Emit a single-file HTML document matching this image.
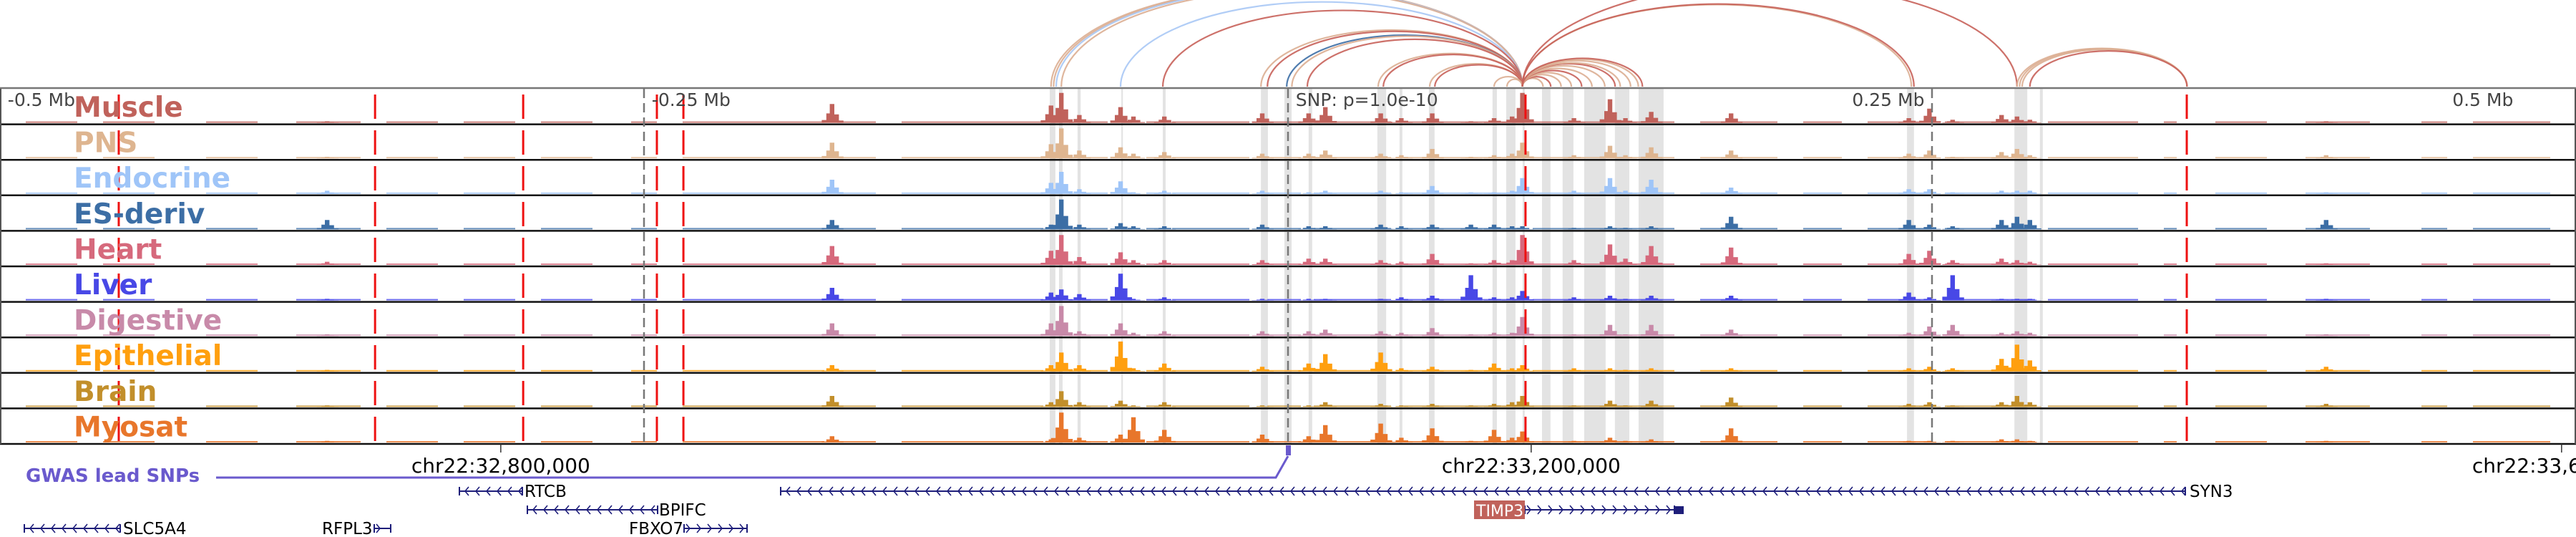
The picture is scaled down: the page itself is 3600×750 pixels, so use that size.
<!DOCTYPE html>
<html><head><meta charset="utf-8">
<style>
html,body{margin:0;padding:0;background:#fff;}
#wrap{position:relative;width:3600px;height:750px;overflow:hidden;}
svg{position:absolute;left:0;top:0;}
</style></head>
<body>
<div id="wrap">
<svg id="chart" width="3600" height="750" viewBox="0 0 3600 750">
  <g id="arcs"></g>
  <g id="bands"></g>
  <g id="tracks"></g>
  <g id="vlines"></g>
  <g id="labels"></g>
  <g id="axis"></g>
  <g id="genes"></g>
</svg>
</div>
<script>
// ---- data ----
const trackNames = ["Muscle","PNS","Endocrine","ES-deriv","Heart","Liver","Digestive","Epithelial","Brain","Myosat"];
const trackColors = ["#c0625b","#deb590","#9fc5f8","#3c6ea5","#d6697c","#4848e6","#c88aa9","#ff9f0f","#c28f2b","#e8762b"];
const peakKb = [-373,-177,-92,-88,-81,-65,-60,-48,-10,8,14.5,36,44,56,71,80,87,91,111,125,131,141,172,241,249,258,277,283,288,403];
const hMuscle = [0.05,0.6,0.55,0.95,0.25,0.5,0.2,0.2,0.3,0.3,0.5,0.3,0.15,0.3,0.05,0.15,0.2,0.95,0.15,0.75,0.15,0.35,0.3,0.15,0.45,0.1,0.25,0.2,0.1,0.05];
const hPNS = [0.05,0.5,0.45,0.95,0.25,0.35,0.15,0.2,0.15,0.15,0.25,0.15,0.1,0.3,0.05,0.1,0.15,0.5,0.1,0.4,0.1,0.35,0.25,0.15,0.25,0.05,0.2,0.3,0.1,0.1];
const hEndocrine = [0.1,0.45,0.35,0.7,0.15,0.4,0.05,0.1,0.1,0.05,0.1,0.1,0.05,0.25,0.05,0.05,0.1,0.5,0.1,0.5,0.1,0.45,0.2,0.15,0.15,0.05,0.1,0.1,0.1,0.05];
const hESderiv = [0.3,0.3,0.15,0.95,0.15,0.2,0.1,0.1,0.15,0.1,0.1,0.15,0.1,0.15,0.15,0.15,0.1,0.1,0.05,0.1,0.05,0.1,0.4,0.3,0.15,0.1,0.3,0.4,0.3,0.3];
const hHeart = [0.1,0.6,0.45,0.95,0.25,0.4,0.15,0.15,0.15,0.2,0.2,0.15,0.1,0.35,0.05,0.15,0.15,0.95,0.15,0.65,0.2,0.6,0.55,0.35,0.45,0.15,0.2,0.15,0.1,0.05];
const hLiver = [0.05,0.4,0.25,0.35,0.2,0.85,0.05,0.1,0.05,0.05,0.05,0.05,0.1,0.15,0.8,0.1,0.1,0.3,0.1,0.15,0.05,0.15,0.15,0.25,0.1,0.8,0.05,0.05,0.05,0.05];
const hDigestive = [0.05,0.4,0.4,0.95,0.15,0.4,0.1,0.15,0.15,0.15,0.2,0.15,0.1,0.25,0.05,0.1,0.1,0.6,0.05,0.35,0.05,0.35,0.2,0.1,0.3,0.35,0.1,0.15,0.1,0.05];
const hEpithelial = [0.05,0.2,0.2,0.6,0.2,0.95,0.1,0.25,0.15,0.25,0.55,0.6,0.1,0.15,0.05,0.25,0.1,0.2,0.1,0.1,0.05,0.1,0.1,0.1,0.15,0.1,0.4,0.85,0.35,0.15];
const hBrain = [0.05,0.35,0.15,0.5,0.15,0.2,0.05,0.15,0.05,0.05,0.15,0.1,0.05,0.1,0.05,0.1,0.15,0.35,0.05,0.2,0.05,0.2,0.3,0.1,0.15,0.05,0.15,0.35,0.15,0.1];
const hMyosat = [0.05,0.2,0.1,0.95,0.15,0.25,0.8,0.4,0.25,0.2,0.55,0.6,0.15,0.45,0.05,0.4,0.15,0.35,0.05,0.15,0.05,0.1,0.45,0.05,0.05,0.05,0.1,0.1,0.05,0.05];
const trackHeights = [hMuscle,hPNS,hEndocrine,hESderiv,hHeart,hLiver,hDigestive,hEpithelial,hBrain,hMyosat];
const bgStart = [-490,-460,-420,-385,-350,-320,-290,-255,-235,-175,-150,-80,-55,-45,-8,10,45,95,160,200,225,255,295,340,360,395,440,460];
const bgEnd   = [-470,-440,-400,-360,-330,-300,-270,-245,-180,-160,-95,-70,-50,-15,5,40,85,150,190,215,250,290,330,345,380,420,450,490];
const bandStart = [-92.5,-88.9,-81.7,-64.7,-48.6,-10.5,-1.4,8,34.7,43.3,54.7,79.4,84.7,91.1,98.6,106.6,115,126.9,136.1,240.3,282,291.9];
const bandEnd   = [-90.3,-87.5,-80.5,-64.1,-47.5,-7.8,1.4,9.4,38.1,44.4,56.9,81.1,88.3,91.9,101.9,110.8,123.3,132.5,145.8,243,287,293];
const redLinesKb = [-453.9,-354.4,-296.9,-245,-234.7,92.2,348.9];
const greyLinesKb = [-250,0,250];
const arcFrom = [-92,-91,-90,-88,-65,-48.6,-10.5,-8,-0.5,1.5,7.5,35,37,55,57,80,85,99,102,106,110,114,118,123,127,129,133,136,137.6,242,243,283];
const arcTo   = [91,91,91,91,91,91,91,91,91,91,91,91,91,91,91,91,91,91,91,91,91,91,91,91,91,91,91,91,91,91,91,91];
const arcColor= [0,0,2,0,2,1,0,1,3,0,1,0,1,0,1,0,0,0,1,0,0,1,0,0,1,0,0,0,1,0,1,1];
const arc2From = [283,284,285,288];
const arc2To   = [349,349,349,349];
const arc2Color= [0,0,0,1];
const arcPalette = ["#dcae92","#c8625a","#a8c8f5","#3c6ea5"];

// ---- scales ----
const PLOT_TOP = 124, TRACK_H = 49.6, NT = 10;
const xS = kb => 1800 + kb * 3.6;
const trackTop = i => PLOT_TOP + i * TRACK_H;
const NS = "http://www.w3.org/2000/svg";
function mk(tag, attrs, parent){ const e=document.createElementNS(NS,tag); for(const k in attrs) e.setAttribute(k,attrs[k]); parent.appendChild(e); return e; }

// arcs
const gA = document.getElementById('arcs');
function drawArc(a,b,c){
  const x1=Math.min(xS(a),xS(b)), x2=Math.max(xS(a),xS(b)), span=x2-x1, h=0.2*span+6, base=121;
  const p = mk('path',{d:`M${x1},${base} A${span/2},${h} 0 0 1 ${x2},${base}`,fill:'none',stroke:arcPalette[c],'stroke-width':2.2,opacity:0.9},gA);
  
  
}
for(let i=0;i<arcFrom.length;i++) drawArc(arcFrom[i],arcTo[i],arcColor[i]);
for(let i=0;i<arc2From.length;i++) drawArc(arc2From[i],arc2To[i],arc2Color[i]);

// bands
const gB = document.getElementById('bands');
for(let i=0;i<bandStart.length;i++){
  const r = mk('rect',{x:xS(bandStart[i]),y:PLOT_TOP,width:Math.max(2,xS(bandEnd[i])-xS(bandStart[i])),height:NT*TRACK_H,fill:'#e3e3e3'},gB);
  
  
}

// tracks
const gT = document.getElementById('tracks');
for(let t=0;t<NT;t++){
  const base = trackTop(t)+TRACK_H-2, col=trackColors[t], hs=trackHeights[t];
  const g = mk('g',{},gT);
  
  
  for(let i=0;i<bgStart.length;i++){
    const r = mk('rect',{x:xS(bgStart[i]),y:base-2,width:xS(bgEnd[i])-xS(bgStart[i]),height:2,fill:col,opacity:0.8},g);
    
    
  }
  for(let i=0;i<peakKb.length;i++){
    const x=xS(peakKb[i]), h=hs[i]*44, w=1.6;
    const d=`M${x-9*w},${base} L${x-9*w},${base-h*0.15} L${x-5*w},${base-h*0.15} L${x-5*w},${base-h*0.5} L${x-2*w},${base-h*0.5} L${x-2*w},${base-h} L${x+2*w},${base-h} L${x+2*w},${base-h*0.45} L${x+6*w},${base-h*0.45} L${x+6*w},${base-h*0.12} L${x+10*w},${base-h*0.12} L${x+10*w},${base} Z`;
    const p = mk('path',{d:d,fill:col},g);
    
    
  }
  const sep = mk('line',{x1:0,x2:3600,y1:trackTop(t)+TRACK_H,y2:trackTop(t)+TRACK_H,stroke:'#111','stroke-width':2.5},g);
  
  
}
// panel frame
const panelTop = mk('line',{x1:0,x2:3600,y1:PLOT_TOP-1,y2:PLOT_TOP-1,stroke:'#777','stroke-width':2.5},gT);


const panelLeft = mk('line',{x1:1,x2:1,y1:PLOT_TOP,y2:PLOT_TOP+NT*TRACK_H,stroke:'#555','stroke-width':2},gT);


const panelRight = mk('line',{x1:3599,x2:3599,y1:PLOT_TOP,y2:PLOT_TOP+NT*TRACK_H,stroke:'#555','stroke-width':2},gT);



// vertical marker lines
const gV = document.getElementById('vlines');
for(const kb of redLinesKb){
  const l = mk('line',{x1:xS(kb),x2:xS(kb),y1:PLOT_TOP,y2:PLOT_TOP+NT*TRACK_H,stroke:'#ee1111','stroke-width':3,'stroke-dasharray':'34 16','stroke-dashoffset':'-8'},gV);
  
  
}
for(const kb of greyLinesKb){
  const l = mk('line',{x1:xS(kb),x2:xS(kb),y1:PLOT_TOP,y2:PLOT_TOP+NT*TRACK_H,stroke:'#777','stroke-width':2.5,'stroke-dasharray':'13 7'},gV);
  
  
}

// labels
const gL = document.getElementById('labels');
for(let t=0;t<NT;t++){
  const tx = mk('text',{x:103,y:trackTop(t)+39,fill:trackColors[t],'font-family':'DejaVu Sans, sans-serif','font-weight':'bold','font-size':39},gL);
  tx.textContent = trackNames[t];
  
  
}
const topLabels = ["-0.5 Mb","-0.25 Mb","SNP: p=1.0e-10","0.25 Mb","0.5 Mb"];
const topLabelKb = [-497,-247,3,219,452];
for(let i=0;i<topLabels.length;i++){
  const tx = mk('text',{x:xS(topLabelKb[i]),y:PLOT_TOP+24,fill:'#444','font-family':'DejaVu Sans, sans-serif','font-size':25},gL);
  tx.textContent = topLabels[i];
  
  
}

// axis
const gX = document.getElementById('axis');
const tickLabels = ["chr22:32,800,000","chr22:33,200,000","chr22:33,600,000"];
const tickKb = [-305.6,94.4,494.4];
for(let i=0;i<tickKb.length;i++){
  const x=xS(tickKb[i]);
  const l = mk('line',{x1:x,x2:x,y1:620,y2:632,stroke:'#333','stroke-width':1.5},gX);
  
  
  const tx = mk('text',{x:x,y:660,'text-anchor':'middle',fill:'#000','font-family':'DejaVu Sans, sans-serif','font-size':28},gX);
  tx.textContent = tickLabels[i];
  
  
}

// GWAS + genes
const gG = document.getElementById('genes');
const gw = mk('text',{x:36,y:673,fill:'#6a5acd','font-family':'DejaVu Sans, sans-serif','font-weight':'bold','font-size':26},gG);
gw.textContent='GWAS lead SNPs';


const gl = mk('path',{d:`M302,667 L1783,667 L1800,637`,fill:'none',stroke:'#6a5acd','stroke-width':3},gG);


const gr = mk('rect',{x:1797,y:622,width:7,height:14,fill:'#6a5acd'},gG);



const geneNames = ["RTCB","BPIFC","SLC5A4","RFPL3","FBXO7","SYN3","TIMP3"];
const geneStart = [642,737,34,523,956,1091,2131];
const geneEnd   = [730,919,168,546,1044,3054,2340];
const geneY     = [686,712,738,738,738,686,712];
const geneStrand= [-1,-1,-1,1,1,-1,1];
const geneLabelX= [733,921,172,450,879,3060,2060];
for(let i=0;i<geneNames.length;i++){
  const y=geneY[i], s=geneStart[i], e=geneEnd[i];
  const g = mk('g',{},gG);
  
  
  mk('line',{x1:s,x2:e,y1:y,y2:y,stroke:'#1e1e7a','stroke-width':2},g);
  mk('line',{x1:s,x2:s,y1:y-6,y2:y+6,stroke:'#1e1e7a','stroke-width':2},g);
  mk('line',{x1:e,x2:e,y1:y-6,y2:y+6,stroke:'#1e1e7a','stroke-width':2},g);
  let d='';
  for(let x=s+8;x<e-4;x+=15){
    if(geneStrand[i]<0) d+=`M${x+5},${y-6} L${x},${y} L${x+5},${y+6} `;
    else d+=`M${x-5},${y-6} L${x},${y} L${x-5},${y+6} `;
  }
  mk('path',{d:d,fill:'none',stroke:'#1e1e7a','stroke-width':1.6},g);
  if(geneNames[i]==="TIMP3"){
    mk('rect',{x:2060,y:699,width:71,height:26,fill:'#c0625b'},g);
    mk('rect',{x:2340,y:707,width:13,height:11,fill:'#1e1e7a'},g);
    const tx=mk('text',{x:2063,y:721,fill:'#fff','font-family':'DejaVu Sans, sans-serif','font-size':22},g);
    tx.textContent=geneNames[i];
  } else {
    const tx=mk('text',{x:geneLabelX[i],y:y+8,fill:'#000','font-family':'DejaVu Sans, sans-serif','font-size':23},g);
    tx.textContent=geneNames[i];
  }
}
</script>
</body></html>
